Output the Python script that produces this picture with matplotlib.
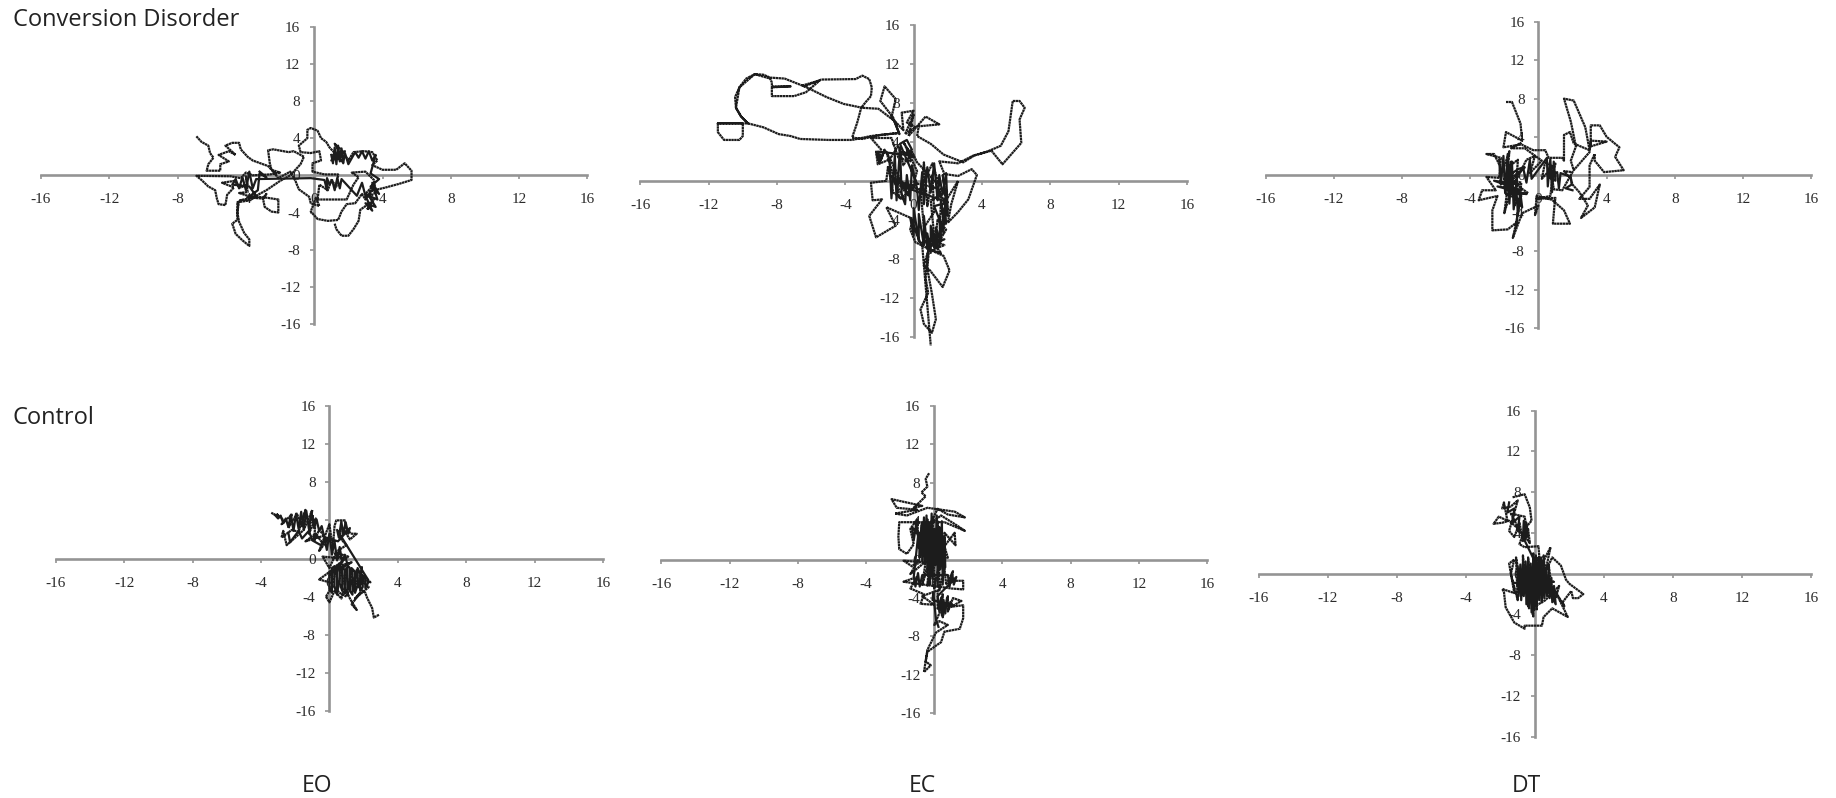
import numpy as np
import matplotlib
matplotlib.use('Agg')
import matplotlib.pyplot as plt

W, H = 1836, 798

ticks = [-16, -12, -8, -4, 0, 4, 8, 12, 16]
row_labels = ['Conversion Disorder', 'Control']
condition_labels = ['EO', 'EC', 'DT']

# centre of pressure traces (x, y)
cd_eo = [(-6.9,4.2),(-6.6,3.6),(-6.2,3.2),(-6.1,2.4),(-5.9,1.9),(-6.2,1.2),(-6.3,0.5),(-5.5,0.5),(-5.5,1.2),(-5.0,1.5),
    (-5.6,2.2),(-5.0,2.6),(-4.6,2.2),(-5.2,3.2),(-4.8,3.5),(-4.4,3.5),(-4.3,2.8),(-3.9,2.0),(-3.6,1.6),(-3.0,1.2),
    (-2.7,1.0),(-2.5,0.6),(-2.0,0.3),(-2.6,0.1),(-3.6,0.0),(-4.0,0.3),(-4.3,-0.3),(-4.9,-0.1),(-6.9,-0.05),(-6.6,-0.5),
    (-6.2,-1.2),(-5.8,-1.6),(-5.7,-2.5),(-5.6,-3.1),(-5.2,-3.2),(-5.1,-2.1),(-4.7,-1.3),(-5.4,-0.8),(-4.7,-0.6),(-4.3,-1.3),
    (-3.9,-1.0),(-4.0,-0.1),(-3.9,-1.8),(-4.4,-1.9),(-3.9,-2.2),(-3.7,-2.4),(-3.0,-2.5),(-2.8,-2.0),(-3.0,-2.5),(-2.9,-3.4),
    (-2.5,-3.9),(-2.1,-4.0),(-2.1,-2.6),(-2.8,-2.4),(-3.4,-2.3),(-3.8,-2.7),(-4.5,-2.9),(-4.5,-4.8),(-4.8,-5.2),(-4.6,-6.3),
    (-4.2,-7.0),(-3.8,-7.6),(-3.8,-6.9),(-4.1,-6.2),(-4.4,-5.0),(-4.5,-4.0),(-4.4,-2.7),(-3.6,-2.4),(-2.8,-1.6),(-2.0,-0.6),
    (-1.4,0.0),(-0.8,1.2),(-0.6,2.0),(-1.2,2.6),(-1.5,2.5),(-2.4,2.8),(-2.7,2.7),(-2.6,1.3),(-2.5,0.6),(-2.1,-0.3),
    (-1.4,0.4),(-1.1,-0.6),(-0.9,-1.5),(-0.3,-2.3),(-0.2,-3.0),(0.3,-3.3),(0.1,-2.4),(-0.2,-3.9),(0.2,-4.7),(0.8,-4.9),
    (1.4,-4.8),(1.6,-3.9),(1.9,-3.1),(2.4,-3.0),(2.8,-2.0),(3.0,-2.6),(3.3,-1.7),(4.2,-1.3),(5.0,-0.9),(5.7,-0.5),
    (5.7,0.5),(5.3,1.3),(4.8,0.6),(4.0,0.6),(3.4,1.1),(3.7,1.6),(3.4,2.5),(2.9,2.6),(2.3,2.5),(2.0,1.6),
    (1.8,2.2),(1.5,2.9),(1.2,3.4),(1.6,2.0),(1.0,1.6),(1.5,2.6),(1.3,1.8),(1.8,2.6),(1.1,2.2),(1.7,1.4),
    (0.9,3.0),(0.7,3.6),(0.4,4.0),(0.2,4.8),(-0.2,5.1),(-0.4,4.9),(-0.4,4.0),(-0.9,3.2),(-0.8,2.5),(-0.2,2.4),
    (0.3,2.6),(0.4,1.6),(-0.1,1.3),(-0.1,0.4),(0.6,0.1),(1.4,0.1),(1.3,-1.2),(1.0,-0.5),(0.8,-1.6),(0.3,-1.0),
    (0.2,-2.6),(1.9,-2.6),(2.3,-1.0),(2.6,-0.2),(2.2,0.3),(3.0,0.4),(3.5,-0.5),(3.6,-1.8),(3.2,-2.4),(3.5,-1.0),
    (3.0,-2.0),(3.5,-2.6),(3.1,-3.7),(3.4,-2.8),(2.7,-3.7),(2.6,-4.9),(2.3,-5.8),(2.0,-6.5),(1.6,-6.5),(1.3,-5.8),(1.2,-5.2)]
cd_eo_core = [(1.0,2.2),(1.1,1.3),(1.2,3.0),(1.3,1.2),(1.4,3.2),(1.5,1.5),(1.6,2.9),(1.7,1.3),(1.8,2.4),(2.0,1.2),
    (2.4,2.5),(2.6,1.9),(2.8,2.6),(3.0,1.8),(3.2,2.6),(3.4,1.6),(3.6,2.2),(3.3,0.2),(3.8,-0.4),(3.3,-1.2),
    (3.8,-2.0),(3.4,-0.8),(3.7,-2.6),(3.2,-2.2),(3.6,-3.4),(3.0,-3.0),(3.4,-3.8),(3.0,-2.2),(2.8,-0.8),(2.5,-2.2),
    (1.6,-0.4),(1.5,-1.4),(1.35,-0.3),(1.2,-1.6),(1.05,-0.5),(0.9,-1.0),(0.75,-0.3),(0.75,-1.6),(0.6,-0.5),(-0.2,-0.3),
    (-3.4,-0.4),(-3.6,-1.4),(-3.8,0.4),(-4.0,-1.6),(-4.2,-0.2),(-4.4,-1.4),(-4.6,-0.4),(-4.8,-1.0),(-3.8,-1.2),(-3.4,-2.2),
    (-3.9,-2.4),(-3.3,-1.6),(-3.2,0.2),(-2.8,-0.2),(-3.2,0.4)]

cd_ec = [(-11.46,5.9),(-11.46,5.0),(-11.1,4.2),(-10.2,4.2),(-10.0,4.6),(-10.0,5.9),(-11.46,5.9),(-9.7,5.9),(-8.8,5.5),(-7.9,4.8),
    (-7.2,4.6),(-6.65,4.3),(-5,4.2),(-3.6,4.2),(-2.5,4.6),(-0.94,4.9),(-2.0,4.7),(-3.0,4.3),(-3.6,4.45),(-3.3,6.0),
    (-3.07,7.5),(-2.8,8.1),(-2.5,8.7),(-2.45,9.6),(-2.6,10.45),(-3.0,10.8),(-3.4,10.45),(-5.4,10.4),(-6.4,9.7),(-7.55,10.5),
    (-8.4,10.6),(-8.8,10.9),(-9.3,10.95),(-9.8,10.5),(-10.2,9.6),(-10.45,8.6),(-10.4,7.5),(-10.1,6.6),(-9.7,5.9),(-10.1,6.6),
    (-10.4,7.5),(-10.2,9.6),(-9.3,10.95),(-8.4,10.5),(-8.3,10.1),(-8.3,9.7),(-7.2,9.7),(-8.3,9.6),(-8.3,8.7),(-7,8.7),
    (-6.3,9.1),(-5.5,10.3),(-6.5,9.8),(-5.1,8.6),(-4.1,7.9),(-3,7.5),(-2.06,7.4),(-1.16,6.2),(-0.83,4.8),(-1.2,6.5),
    (-1.95,8.2),(-1.7,9.7),(-1.05,8.4),(-1.3,6.5),(-0.6,5.2),(-0.7,7.0),(0.0,7.2),(-0.4,6.0),(0.1,5.5),(-0.5,4.8),
    (0.0,6.8),(-0.3,4.6),(0.7,6.6),(1.5,5.8),(0.3,5.6),(0.2,4.6),(1.0,3.8),(1.75,2.7),(2.9,1.9),(3.55,2.6),
    (4.3,3.0),(5.1,3.6),(5.55,5.1),(5.8,8.2),(6.2,8.2),(6.5,7.5),(6.2,6.3),(6.3,3.9),(5.2,1.7),(4.55,3.1),
    (3.5,2.6),(2.6,1.8),(1.5,2.0),(1.8,0.7),(2.6,0.5),(3.4,1.2),(3.7,0.6),(3.2,-1.9),(2.6,-3.2),(2.0,-4.3),
    (2.2,-2.4),(2.6,0.0),(1.9,-2.0),(1.7,0.6),(2.0,-3.0),(1.5,-1.0),(1.8,-4.5),(1.6,-2.0),(1.5,-6.2),(1.9,-5.0),
    (1.4,-4.0),(1.2,-7.0),(1.8,-6.6),(1.0,-6.0),(1.6,-7.4),(0.85,-7),(1.75,-7.7),(2.1,-9.2),(1.7,-10.9),(0.96,-9.2),
    (0.6,-8.7),(0.85,-7.2),(0.7,-10),(0.85,-11.5),(0.4,-13.2),(0.6,-14.7),(1.07,-15.6),(1.3,-14.2),(1.07,-11.6),(0.8,-9),
    (0.9,-7),(0.1,-6.3),(-0.2,-5),(-0.05,-3.9),(-1.6,-2.7),(-1.05,-4.6),(-2.2,-5.8),(-2.6,-3.6),(-1.85,-1.9),(-2.4,-2),
    (-2.5,-0.2),(-1.6,0),(-1.5,1.5),(-1.2,-1.2),(-0.5,-2.0),(-1.3,0.5),(-0.3,-1.5),(-1.6,3),(-0.8,-1.9),(0.1,-0.5),
    (-0.8,-0.2),(0.5,-1.0),(0.6,1.9),(0.8,-2.6),(1.1,0.6),(1.2,-3.2),(0.6,-4.8),(0.4,-0.8),(1.1,1.8),(1.5,-0.5),
    (0.2,1.9),(-0.1,3.0),(-0.6,1.6),(-0.9,3.6),(-1.4,2.2),(-2.1,1.7),(-2.2,3.0),(-2.0,2.0),(-1.9,3.2),(-2.5,4.4),
    (-1.3,4.4),(-0.9,2.4),(-0.2,2.0),(-0.4,3.4),(0.0,2.4),(-0.7,3.0),(-0.2,2.8),(-0.6,4.0),(0.2,1.0),(0.0,-0.2),
    (1.0,-0.6),(2.0,-1.0),(1.0,-2.0),(1.2,-5.6),(0.5,-6.6),(1.0,-16.9)]
cd_ec_core = [(-1.4,1.8),(-1.3,-1.8),(-1.1,2.6),(-1.0,-2.0),(-0.8,3.4),(-0.7,-1.4),(-0.5,-2.4),(-0.4,0.6),(-0.2,-2.0),(-0.1,1.6),
    (0.2,-0.8),(0.3,-3.0),(0.5,0.9),(0.6,-2.4),(0.8,1.4),(1.0,-1.2),(1.2,1.8),(1.4,-2.0),(1.5,0.6),(1.7,-1.4),
    (1.9,0.8),(2.0,-3.6),(1.8,-1.8),(1.9,-4.4),(1.7,-2.8),(1.75,-5.4),(1.5,-3.6),(1.6,-6.2),(1.3,-4.8),(1.4,-7.0),
    (1.1,-5.0),(1.2,-6.8),(1.0,-4.6),(1.0,-7.4),(0.8,-5.4),(0.8,-7.0),(0.6,-3.6),(0.6,-6.6),(0.3,-3.4),(0.3,-6.2),
    (0.0,-2.8),(0.0,-5.6),(-0.2,-3.8),(0.4,-6.4),(1.6,-5.6),(1.1,-6.2),(1.8,-6.0),(1.0,-6.6),(1.5,-6.8),(1.6,-4.4),
    (1.2,-2.6),(2.0,-2.2),(-0.6,-0.6),(-0.9,0.1),(-0.4,-0.4),(-0.6,-0.8),(0.2,-0.3),(-0.8,3.8),(-0.4,4.2),(-0.1,3.2),
    (-0.3,3.0),(-0.5,2.8),(0.0,2.6),(-2.1,3.0),(-1.9,2.2),(-1.7,3.2),(-2.0,1.8),(-2.1,2.6)]

cd_dt = [(-1.9,7.65),(-1.55,7.65),(-1.05,5.4),(-0.95,3.6),(-1.9,4.5),(-2.05,2.9),(-1.0,3.2),(-0.3,2.6),(0.4,2.6),(0.6,1.8),
    (1.4,1.8),(1.5,1.5),(1.5,4.2),(1.85,4.5),(2.07,3.3),(3,2.6),(2.75,5),(2.07,7.8),(1.5,8),(1.6,7.4),
    (1.9,5.6),(2.2,3.0),(1.9,1.5),(2.07,0.5),(3.0,2.4),(3.07,3.6),(4,3.5),(3.07,3.0),(3.07,5.2),(3.6,5.2),
    (4,4),(4.75,2.9),(4.5,1.9),(5,0.5),(3.85,0.3),(3.3,1.5),(3.3,2.2),(3.0,1.0),(3,-1.25),(2.4,-2.5),
    (3.0,-2.5),(3.6,-1.0),(3.5,-1.8),(3.3,-3.4),(2.5,-4.5),(2.9,-3.2),(2.4,-1.8),(2.0,-1.0),(1.9,-0.4),(1.5,0.4),
    (2.0,0.3),(1.4,-1.6),(0.9,-1.5),(0.8,-0.2),(1.0,1.2),(0.2,-0.4),(0.4,1.4),(0.9,0.8),(0.7,-2.2),(-0.1,-2.5),
    (1.0,-2.4),(0.95,-3),(0.85,-5.1),(1.85,-5.1),(1.5,-3.7),(0.8,-2.6),(-0.1,-2.2),(-0.2,-4.2),(0.0,-3.2),(-0.95,-4),
    (-1.5,-6.6),(-1.3,-5.0),(-1.8,-5.7),(-2.7,-5.8),(-2.7,-3.7),(-2.4,-2.2),(-3.5,-2.65),(-3.3,-1.6),(-2.5,-1.6),(-3.05,-0.2),
    (-2.3,-0.3),(-2.2,1.8),(-3.05,2.2),(-2.6,2.2),(-2.1,0.4),(-1.7,2.5),(-1.9,-1.6),(-1.6,1.4),(-2.0,-4.0),(-1.5,-1.0),
    (-1.8,0.8),(-1.2,1.6),(-1.4,-3.2),(-1.0,-2.2),(-1.8,-1.0),(-0.8,0.8),(-1.7,-0.5),(-1.0,-0.8),(-1.3,-5.2),(-1.1,-2.6),
    (-1.9,-2.0),(-0.6,-1.9),(-1.4,-0.9),(-0.7,1.6),(-0.2,2.0),(-0.5,0.2),(0.2,1.5),(-0.8,2.8),(-1.6,2.8),(-1.0,3.4)]
cd_dt_core = [(-2.3,1.6),(-2.2,-1.0),(-2.05,2.0),(-1.95,-1.9),(-1.8,2.2),(-1.7,-3.0),(-1.55,1.4),(-1.45,-3.6),(-1.3,-1.2),(-1.2,-4.2),
    (-1.05,-2.0),(-0.95,-3.4),(-1.6,-1.8),(-0.7,-2.0),(-2.4,-1.2),(-1.0,-1.6),(-2.6,-0.6),(-1.1,-1.0),(-2.0,-0.4),(-1.2,0.6),
    (-0.9,0.8),(-0.7,-0.8),(-0.5,1.6),(-0.4,-0.4),(0.5,1.8),(0.55,-1.2),(0.7,1.7),(0.8,-1.8),(0.9,1.4),(1.0,-0.6),
    (0.6,-0.2),(1.1,0.3),(1.2,-1.4),(1.3,0.2),(1.9,-0.2),(1.95,-1.0),(1.6,-1.4),(2.0,-1.6)]

ctrl_eo = [(-3.4,4.8),(-3.0,4.4),(-3.1,4.7),(-2.6,3.9),(-2.8,3.6),(-2.2,4.6),(-2.4,3.2),(-1.9,4.7),(-1.6,3.4),(-1.4,5.1),
    (-1.8,2.8),(-2.2,3.0),(-2.8,2.2),(-2.7,2.9),(-2.5,1.4),(-2.0,2.2),(-1.5,3.0),(-1.0,5.1),(-1.2,2.6),(-0.8,4.2),
    (-0.9,1.8),(-0.6,3.0),(-0.3,2.4),(-1.4,1.8),(-0.8,2.6),(-0.4,1.6),(0.0,2.2),(-0.6,0.8),(0.0,3.6),(0.2,1.0),
    (0.3,3.4),(0.4,4.0),(0.9,4.0),(1.0,3.0),(1.3,2.6),(1.6,2.6),(1.2,2.0),(0.7,3.4),(0.6,2.2),(1.0,1.4),
    (0.3,0.6),(0.8,0.0),(-0.4,0.2),(0.0,-1.0),(0.4,0.6),(1.1,0.2),(0.3,-0.9),(1.3,-0.4),(0.0,-1.8),(0.7,-0.5),
    (-0.6,-2.2),(0.2,-2.6),(0.4,-1.0),(0.5,-3.2),(0.7,-1.2),(0.9,-2.8),(1.0,-1.0),(1.1,-3.2),(1.3,-1.0),(1.4,-3.4),
    (1.6,-1.2),(1.7,-3.0),(1.9,-0.9),(1.9,-2.8),(2.0,-1.8),(2.4,-2.5),(1.8,-2.2),(2.3,-3.0),(1.5,-4.2),(1.8,-3.6),
    (1.3,-4.8),(1.6,-5.4),(1.2,-4.2),(0.9,-3.0),(0.7,-4.2),(0.3,-3.4),(0.0,-4.6),(-0.2,-4.0),(0.2,-2.8),(0.6,-3.6),
    (1.0,-4.0),(1.4,-2.0),(1.8,-3.2),(2.1,-3.6),(2.2,-4.1),(2.5,-5.2),(2.6,-6.2),(2.9,-5.9)]
ctrl_eo_core = [(-3.2,4.6),(-3.0,4.2),(-2.85,4.5),(-2.7,3.7),(-2.55,4.2),(-2.4,3.3),(-2.25,4.6),(-2.1,2.9),(-1.95,4.7),(-1.8,3.1),
    (-1.65,4.9),(-1.5,3.0),(-1.35,5.0),(-1.2,3.1),(-1.05,4.9),(-0.9,3.2),(-0.75,4.1),(-0.6,2.9),(-0.45,3.4),(-0.3,2.2),
    (-0.15,0.9),(0.0,2.6),(0.15,0.4),(0.3,1.8),(0.45,-0.2),(0.6,1.2),(0.75,-0.4),(0.9,0.4),(1.05,-0.6),(0.0,-1.4),
    (0.0,-3.2),(0.15,-3.6),(0.15,-1.0),(0.3,-0.8),(0.3,-3.0),(0.45,-3.8),(0.45,-1.3),(0.6,-0.6),(0.6,-2.6),(0.75,-3.4),
    (0.75,-0.9),(0.9,-1.2),(0.9,-3.7),(1.05,-3.2),(1.05,-0.7),(1.2,-1.0),(1.2,-3.4),(1.35,-3.8),(1.35,-1.1),(1.5,-1.4),
    (1.5,-3.6),(1.65,-2.8),(1.65,-1.0),(1.8,-1.6),(1.8,-3.4),(1.95,-3.0),(1.95,-1.8),(2.1,-2.2),(2.1,-3.1),(2.25,-2.6),
    (2.25,-2.2),(0.45,3.0),(0.55,2.2),(0.7,3.9),(0.8,2.5),(0.95,3.8),(1.1,2.6),(1.2,3.2),(0.5,1.8),(-0.2,2.2),
    (-0.5,1.4),(-1.0,1.9),(-1.2,2.9),(-1.6,2.1),(-1.8,2.9),(-2.3,1.7),(-2.4,2.7)]

ctrl_ec = [(-0.3,9),(-0.5,8.4),(-0.4,7.6),(-0.75,7),(-0.5,6.6),(-1.2,5.4),(-0.7,5.6),(-2.5,6.3),(-2.2,5.4),(-1.0,5.2),
    (-2.3,4.8),(-1.6,4.6),(-0.4,5.4),(1.2,5.0),(1.8,4.4),(0.8,4.7),(0.2,5.3),(-0.2,3.8),(0.4,4.6),(1.3,3.6),
    (1.8,3.0),(0.6,3.9),(-2.05,3.9),(-2.1,2.4),(-2.05,1.1),(-1.6,0.6),(-1.2,1.6),(-1.4,3.2),(-1.0,4.2),(-0.9,1.2),
    (-0.7,3.8),(-0.6,0.4),(-0.4,4.2),(-0.3,0.2),(-0.1,4.4),(0.0,-0.2),(0.2,4.0),(0.3,0.0),(0.4,3.2),(0.5,-0.4),
    (0.6,2.8),(1.25,1.5),(1.2,2.8),(0.6,1.4),(0.8,0.2),(-0.6,-0.3),(-1.8,-0.1),(-1.3,-0.7),(-0.9,0.0),(-1.4,-1.5),
    (-0.5,-0.2),(-0.7,-2.6),(-0.3,-0.3),(-0.4,-2.7),(0.0,-0.2),(0.0,-3.0),(0.3,-0.3),(0.3,-3.2),(0.6,-0.9),(0.7,-2.6),
    (1.1,-1.2),(1.0,-2.2),(1.7,-2.2),(1.7,-3.1),(1.0,-3.0),(-1.8,-2.3),(-1.0,-1.8),(-1.4,-3.0),(-0.6,-3.6),(-0.8,-4.6),
    (0.0,-4.7),(-0.7,-3.8),(0.2,-3.2),(0.2,-5.2),(0.5,-3.6),(0.5,-6.0),(0.8,-3.8),(0.8,-5.4),(1.1,-4.0),(1.6,-4.3),
    (1.0,-4.9),(1.7,-4.75),(1.7,-6.1),(1.5,-7.2),(0.6,-7.5),(0.4,-8.6),(0.15,-8.9),(-0.4,-9.6),(-0.5,-10.6),(-0.2,-11),
    (-0.6,-11.7),(-0.4,-9.4),(0.1,-7.6),(0.8,-6.8),(0.3,-6.4),(0.0,-6.8),(0.4,-5.2)]
ctrl_ec_core = [(-0.9,2.8),(-0.85,0.2),(-0.75,3.6),(-0.7,-0.2),(-0.6,4.4),(-0.55,-0.4),(-0.45,4.6),(-0.4,-1.4),(-0.3,3.9),(-0.25,-2.6),
    (-0.15,4.8),(-0.1,-2.0),(0.0,3.2),(0.05,-0.6),(0.15,4.6),(0.2,-2.8),(0.3,3.4),(0.35,-1.0),(0.45,4.0),(0.5,-2.6),
    (0.6,2.4),(0.65,-0.8),(-1.3,3.4),(-1.2,2.0),(-1.05,3.8),(-0.95,2.4),(-1.2,-1.8),(-1.1,-2.8),(-0.95,-1.4),(-0.85,-2.8),
    (-0.7,-1.6),(0.8,-1.6),(0.9,-2.8),(1.05,-1.4),(1.15,-2.6),(1.3,-1.8),(0.2,-3.8),(0.3,-5.4),(0.4,-4.0),(0.45,-5.8),
    (0.55,-4.2),(0.65,-5.6),(0.75,-4.0),(0.85,-5.2),(0.95,-4.4),(1.1,-4.8),(-0.1,-4.2),(-0.05,-3.4),(0.1,-6.2),(0.25,-7.0)]

ctrl_dt = [(-1.3,7.5),(-0.6,7.8),(-0.3,6.5),(-0.2,5.2),(-0.5,4.6),(-0.6,5.6),(-1.4,5.9),(-0.9,4.3),(-1.5,5.2),(-1.9,5.0),
    (-2.4,4.9),(-2.1,5.6),(-1.6,5.2),(-1.8,7),(-1.9,6.4),(-1.4,6.6),(-1.0,7.2),(-1.5,4.2),(-1.2,3.6),(-0.9,5.0),
    (-0.7,3.2),(-0.4,4.4),(-0.3,3.0),(-0.7,3.9),(-0.9,2.9),(-0.6,2.6),(0.2,2.7),(0.3,0.6),(0.9,2.6),(0.6,0.2),
    (1.0,1.6),(1.5,0.8),(1.8,-0.6),(2.0,-1.0),(2.4,-1.5),(2.8,-2.0),(2.5,-2.4),(2.2,-2.4),(2.1,-1.7),(1.6,-2.8),
    (1.7,-3.2),(1.2,-1.8),(1.9,-4.25),(1.0,-3.4),(0.5,-4.25),(0.4,-5.1),(-0.6,-5.1),(-0.6,-5.4),(-1.2,-4.8),(-1.7,-3.3),
    (-1.8,-1.8),(-1.9,-1.5),(-1.2,-1.9),(-1.5,1.0),(-1.2,1.4),(-1.4,0.0),(-1.0,-2.6),(-1.1,1.6),(-0.7,-2.2),(-0.7,1.8),
    (-0.4,-3.2),(-0.4,1.6),(-0.1,-4.2),(-0.1,2.0),(0.1,-3.6),(0.2,1.6),(0.4,-2.8),(0.5,1.8),(0.7,-2.2),(0.8,0.8),
    (1.0,-2.0),(-0.9,-0.2),(1.0,-1.6),(-1.2,-0.9),(1.1,-0.8),(-1.0,0.4),(1.2,-2.4),(1.4,-1.2),(0.6,-2.6),(-0.2,-3.4),(0.0,-3.0)]
ctrl_dt_core = [(-1.0,0.6),(-0.95,-2.2),(-0.85,0.9),(-0.8,-2.6),(-0.7,1.0),(-0.65,-2.2),(-0.55,1.2),(-0.5,-3.0),(-0.4,1.4),(-0.35,-3.4),
    (-0.25,1.0),(-0.2,-3.8),(-0.1,1.6),(-0.05,-3.6),(0.05,1.8),(0.1,-3.0),(0.2,1.4),(0.25,-2.6),(0.35,1.6),(0.4,-2.8),
    (0.5,0.9),(0.55,-2.4),(0.65,0.6),(0.7,-2.0),(0.8,-0.2),(0.85,-2.4),(0.95,-0.4),(1.0,-2.8),(1.1,-1.2),(1.2,-3.0),
    (-0.7,3.6),(-0.65,5.2),(-0.55,3.4),(-0.5,5.0),(-0.4,3.6),(-1.0,4.2),(-0.9,5.6),(-1.3,5.0),(-1.2,6.4),(-1.6,6.0),(-1.5,7.0)]

# panel boxes in pixels: left, right, top, bottom of the -16..16 range
boxes = [[(41, 587.4, 26.7, 324), (640.3, 1187, 25, 336.7), (1265.5, 1811.3, 22.3, 327.7)],
         [(55.8, 603, 406, 711), (661.4, 1207, 406, 713.3), (1259, 1811, 410.7, 736.7)]]
traces = [[cd_eo, cd_ec, cd_dt], [ctrl_eo, ctrl_ec, ctrl_dt]]
cores = [[cd_eo_core, cd_ec_core, cd_dt_core], [ctrl_eo_core, ctrl_ec_core, ctrl_dt_core]]

fig = plt.figure(figsize=(W / 100, H / 100), dpi=100, facecolor='white')

for r in range(2):
    for c in range(3):
        left, right, top, bottom = boxes[r][c]
        ax = fig.add_axes([left / W, 1 - bottom / H, (right - left) / W, (bottom - top) / H])
        ax.set_xlim(-16, 16)
        ax.set_ylim(-16, 16)
        ax.patch.set_alpha(0)
        for side in ['top', 'right']:
            ax.spines[side].set_visible(False)
        for side in ['left', 'bottom']:
            ax.spines[side].set_position(('data', 0))
            ax.spines[side].set_color('#949494')
            ax.spines[side].set_linewidth(1.9)
            ax.spines[side].set_zorder(1)
        ax.set_xticks(ticks)
        ax.set_yticks(ticks)
        ax.set_xticklabels([str(t) for t in ticks])
        ax.set_yticklabels([str(t) for t in ticks])
        ax.tick_params(direction='out', length=3, width=1.2, color='#949494', labelcolor='#2a2a2a', labelsize=11, pad=10)
        ax.tick_params(axis='y', pad=7)
        for lab in ax.get_xticklabels() + ax.get_yticklabels():
            lab.set_family('Liberation Serif')
        pts = np.array(traces[r][c])
        ax.plot(pts[:, 0], pts[:, 1], color='#1c1c1c', lw=1.6, ls=(0, (1.1, 0.2)), clip_on=False, zorder=3)
        core = np.array(cores[r][c])
        ax.plot(core[:, 0], core[:, 1], color='#1c1c1c', lw=1.6, clip_on=False, zorder=3)

fig.text(13 / W, 1 - 20 / H, row_labels[0], fontsize=17, family='Open Sans', color='#222222', va='center')
fig.text(13 / W, 1 - 418 / H, row_labels[1], fontsize=17, family='Open Sans', color='#222222', va='center')
for cond, xc in zip(condition_labels, [317, 922, 1526]):
    fig.text(xc / W, 1 - 786 / H, cond, fontsize=16.5, family='Open Sans', color='#222222', va='center', ha='center')

fig.savefig('out.png', dpi=100)
